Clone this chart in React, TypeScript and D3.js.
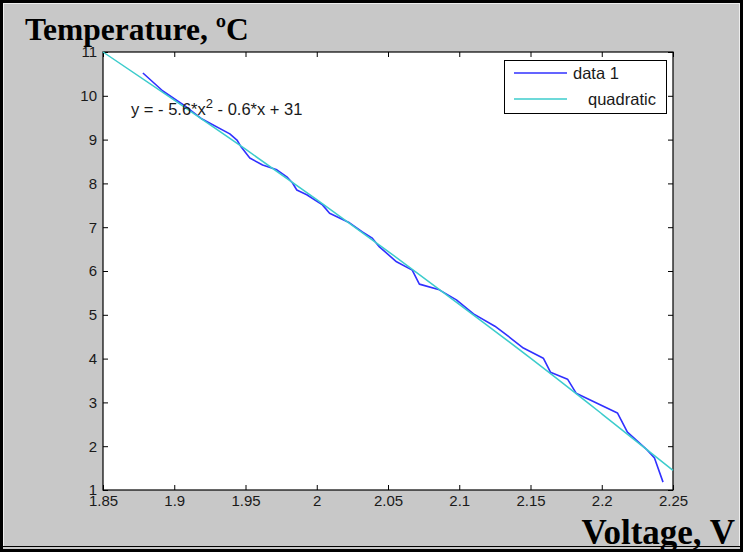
import React, { useEffect, useRef } from 'react';
import * as d3 from 'd3';

// measured data (data 1)
const voltage = [1.878, 1.892, 1.9075, 1.9195, 1.939, 1.944, 1.947, 1.953, 1.962, 1.972, 1.979, 1.983, 1.986, 1.993, 2.004, 2.009, 2.023, 2.032, 2.039, 2.044, 2.056, 2.067, 2.072, 2.086, 2.098, 2.110, 2.125, 2.136, 2.145, 2.159, 2.164, 2.176, 2.182, 2.211, 2.218, 2.232, 2.237, 2.243];
const temperature = [10.52, 10.11, 9.77, 9.47, 9.13, 8.99, 8.83, 8.58, 8.42, 8.31, 8.15, 8.01, 7.85, 7.74, 7.51, 7.32, 7.10, 6.89, 6.75, 6.55, 6.21, 6.02, 5.70, 5.57, 5.34, 5.02, 4.74, 4.47, 4.24, 4.01, 3.69, 3.53, 3.21, 2.76, 2.32, 1.91, 1.73, 1.18];

// quadratic fit
const fitVoltage = [1.85, 1.9, 1.95, 2.0, 2.05, 2.1, 2.15, 2.2, 2.25];
const fitTemperature = [11.0, 9.9, 8.78, 7.63, 6.45, 5.24, 4.01, 2.74, 1.45];

const xTicks = [1.85, 1.9, 1.95, 2, 2.05, 2.1, 2.15, 2.2, 2.25];
const yTicks = [1, 2, 3, 4, 5, 6, 7, 8, 9, 10, 11];
const legendLabels = ['data 1', 'quadratic'];

const width = 743;
const height = 552;
const marginLeft = 103;
const marginRight = 70;
const marginTop = 52;
const marginBottom = 62;

const blue = '#3030ff';
const cyan = '#3ccccc';

const App = () => {
  const svgRef = useRef(null);

  useEffect(() => {
    const svg = d3.select(svgRef.current);
    svg.selectAll('*').remove();

    const x = d3.scaleLinear()
      .domain([1.85, 2.25])
      .range([marginLeft, width - marginRight]);
    const y = d3.scaleLinear()
      .domain([1, 11])
      .range([height - marginBottom, marginTop]);

    // figure background and frame
    svg.append('rect').attr('width', width).attr('height', height).attr('fill', '#c8c8c8');
    svg.append('rect')
      .attr('x', 1.5).attr('y', 1.5)
      .attr('width', width - 3).attr('height', height - 3)
      .attr('fill', 'none').attr('stroke', '#000').attr('stroke-width', 3);
    svg.append('rect')
      .attr('x', 3.5).attr('y', 3.5)
      .attr('width', width - 7).attr('height', height - 9)
      .attr('fill', 'none').attr('stroke', '#eeeeee').attr('stroke-width', 1);
    svg.append('line')
      .attr('x1', 3).attr('x2', width - 3)
      .attr('y1', height - 5.5).attr('y2', height - 5.5)
      .attr('stroke', '#000').attr('stroke-width', 1);

    // axes area
    svg.append('rect')
      .attr('x', marginLeft).attr('y', marginTop)
      .attr('width', width - marginLeft - marginRight)
      .attr('height', height - marginTop - marginBottom)
      .attr('fill', '#fff');

    const font = "'Liberation Sans', Arial, sans-serif";
    const serif = "'Liberation Serif', 'Times New Roman', serif";
    const styleAxis = (g) => {
      g.select('.domain').remove();
      g.selectAll('line').attr('stroke', '#000');
      g.selectAll('text').attr('font-family', font).attr('font-size', 15).attr('fill', '#1a1a1a');
    };

    svg.append('g')
      .attr('transform', `translate(0,${height - marginBottom})`)
      .call(d3.axisBottom(x).tickValues(xTicks).tickFormat(d => String(d)).tickSize(-5).tickPadding(5))
      .call(styleAxis);
    svg.append('g')
      .attr('transform', `translate(0,${marginTop})`)
      .call(d3.axisTop(x).tickValues(xTicks).tickFormat(() => '').tickSize(-5))
      .call(styleAxis);
    svg.append('g')
      .attr('transform', `translate(${marginLeft},0)`)
      .call(d3.axisLeft(y).tickValues(yTicks).tickFormat(d => String(d)).tickSize(-5).tickPadding(6))
      .call(styleAxis);
    svg.append('g')
      .attr('transform', `translate(${width - marginRight},0)`)
      .call(d3.axisRight(y).tickValues(yTicks).tickFormat(() => '').tickSize(-5))
      .call(styleAxis);

    svg.append('rect')
      .attr('x', marginLeft).attr('y', marginTop)
      .attr('width', width - marginLeft - marginRight)
      .attr('height', height - marginTop - marginBottom)
      .attr('fill', 'none').attr('stroke', '#000').attr('stroke-width', 1.2);

    const line = d3.line().x(d => x(d[0])).y(d => y(d[1]));

    svg.append('path')
      .datum(voltage.map((v, i) => [v, temperature[i]]))
      .attr('fill', 'none').attr('stroke', blue).attr('stroke-width', 1.6)
      .attr('stroke-linejoin', 'round')
      .attr('d', line);

    svg.append('path')
      .datum(fitVoltage.map((v, i) => [v, fitTemperature[i]]))
      .attr('fill', 'none').attr('stroke', cyan).attr('stroke-width', 1.5)
      .attr('d', line.curve(d3.curveMonotoneX));

    // equation
    const eq = svg.append('text')
      .attr('x', 131).attr('y', 115)
      .attr('font-family', font).attr('font-size', 16.5).attr('fill', '#1a1a1a');
    eq.append('tspan').text('y = - 5.6*x');
    eq.append('tspan').attr('dy', -7).attr('font-size', 13).text('2');
    eq.append('tspan').attr('dy', 7).text(' - 0.6*x + 31');

    // legend
    const lg = svg.append('g');
    lg.append('rect')
      .attr('x', 504.5).attr('y', 60.5).attr('width', 162).attr('height', 53)
      .attr('fill', '#fff').attr('stroke', '#000');
    const legendColors = [blue, cyan];
    const legendTextX = [573, 588];
    legendLabels.forEach((label, i) => {
      const ly = 73 + i * 26;
      lg.append('line')
        .attr('x1', 514).attr('x2', 567).attr('y1', ly).attr('y2', ly)
        .attr('stroke', legendColors[i]).attr('stroke-width', 1.6);
      lg.append('text')
        .attr('x', legendTextX[i]).attr('y', ly).attr('dy', '0.35em')
        .attr('font-family', font).attr('font-size', 16.5).attr('fill', '#1a1a1a')
        .text(label);
    });

    // axis titles
    svg.append('text')
      .attr('x', 25).attr('y', 40)
      .attr('font-family', serif)
      .attr('font-weight', 'bold').attr('font-size', 31.5).attr('fill', '#000')
      .text('Temperature, ºC');
    svg.append('text')
      .attr('x', 735).attr('y', 544).attr('text-anchor', 'end')
      .attr('font-family', serif)
      .attr('font-weight', 'bold').attr('font-size', 35).attr('fill', '#000')
      .text('Voltage, V');
  }, []);

  return (
    <svg ref={svgRef} width={width} height={height}
      style={{ position: 'absolute', left: 0, top: 0, display: 'block' }} />
  );
};

export default App;
